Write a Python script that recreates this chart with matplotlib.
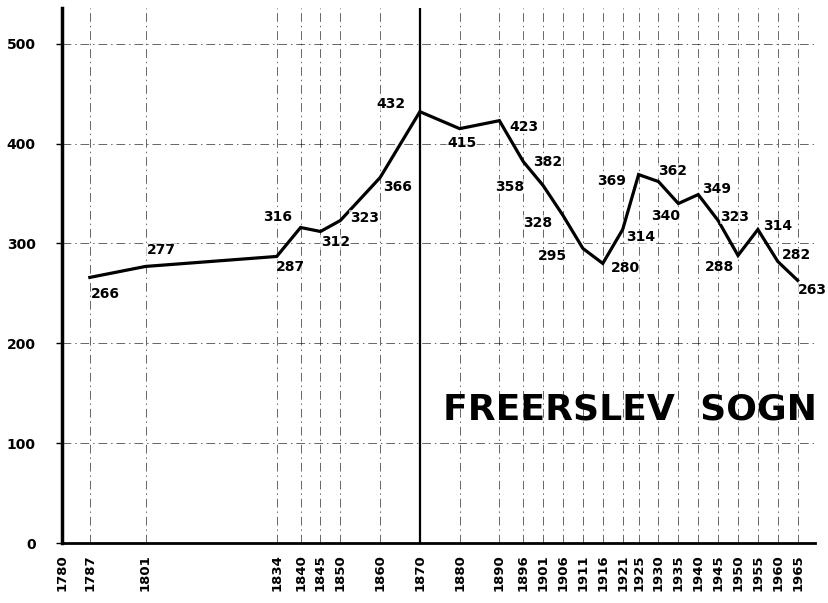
import matplotlib
matplotlib.use("Agg")
import matplotlib.pyplot as plt

# population, Freerslev sogn
years = [1787, 1801, 1834, 1840, 1845, 1850, 1860, 1870, 1880, 1890, 1896,
         1901, 1906, 1911, 1916, 1921, 1925, 1930, 1935, 1940, 1945, 1950,
         1955, 1960, 1965]
population = [266, 277, 287, 316, 312, 323, 366, 432, 415, 423, 382,
              358, 328, 295, 280, 314, 369, 362, 340, 349, 323, 288,
              314, 282, 263]
tick_years = [1780] + years
y_ticks = [0, 100, 200, 300, 400, 500]

# label offsets in pixels (dx, dy), dy up
label_offsets = [(16, -17), (16, 16), (14, -11), (-23, 10), (15, -11), (24, 3),
                 (17, -9), (-29, 8), (2, -14), (25, -6), (24, 0), (-33, -1),
                 (-25, -7), (-30, -8), (23, -5), (18, -8), (-27, -6), (14, 11),
                 (-13, -12), (18, 6), (17, 4), (-18, -12), (20, 3), (19, 6),
                 (15, -10)]

fig = plt.figure(figsize=(8.29, 6.03), dpi=100)
ax = fig.add_axes([0.0748, 0.0995, 0.908, 0.8875])
ax.set_xlim(1780, 1969.3)
ax.set_ylim(0, 536)

gl = dict(color="black", lw=0.7, dashes=(9, 4, 1.5, 4), alpha=0.6, zorder=1)
for y in y_ticks[1:]:
    ax.axhline(y, **gl)
for yr in years:
    if yr == 1870:
        ax.axvline(yr, color="black", lw=1.6, zorder=2)
    else:
        ax.axvline(yr, **gl)

ax.plot(years, population, color="black", lw=2.3, zorder=3,
        solid_joinstyle="miter")

for yr, v, (dx, dy) in zip(years, population, label_offsets):
    ax.annotate(str(v), (yr, v), xytext=(dx, dy), textcoords="offset pixels",
                ha="center", va="center", fontsize=10, fontweight="bold",
                zorder=4, bbox=dict(boxstyle="square,pad=0.05", fc="white",
                                    ec="none", alpha=0.6))

ax.text(1875.8, 134, "FREERSLEV  SOGN", fontsize=26, fontweight="bold",
        ha="left", va="center", zorder=4)

for s in ("top", "right"):
    ax.spines[s].set_visible(False)
ax.spines["left"].set_linewidth(2.5)
ax.spines["bottom"].set_linewidth(2)

ax.set_xticks(tick_years)
ax.set_xticklabels([str(y) for y in tick_years], rotation=90, fontsize=9.5,
                   fontweight="bold")
ax.set_yticks(y_ticks)
ax.set_yticklabels([str(y) for y in y_ticks], fontsize=10, fontweight="bold")
ax.tick_params(axis="x", length=0, pad=8)
ax.tick_params(axis="y", length=4, width=1, pad=15)

fig.savefig("out.png", dpi=100)
